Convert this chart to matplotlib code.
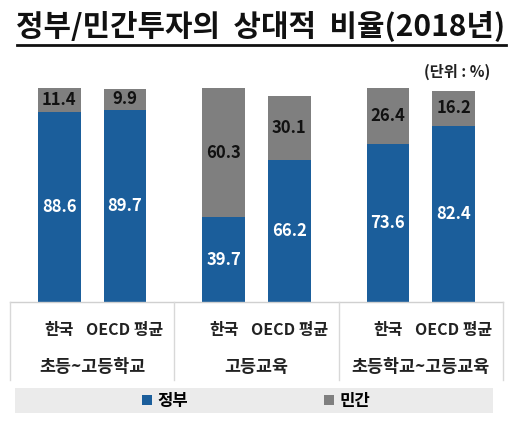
import matplotlib.pyplot as plt
from matplotlib.patches import Rectangle
import numpy as np

plt.rcParams['font.family'] = ['Noto Sans CJK KR', 'DejaVu Sans']

# data
groups = ['초등~고등학교', '고등교육', '초등학교~고등교육']
members = ['한국', 'OECD 평균']
gov = [88.6, 89.7, 39.7, 66.2, 73.6, 82.4]      # 정부
priv = [11.4, 9.9, 60.3, 30.1, 26.4, 16.2]      # 민간

blue = '#1b5e9b'
gray = '#7f7f7f'

W, H = 526, 436
fig = plt.figure(figsize=(W / 100, H / 100), dpi=100)
ax = fig.add_axes([10 / W, (H - 302) / H, 493 / W, 214 / H])

x = np.array([g + off for g in range(len(groups)) for off in (0.3, 0.7)])
b1 = ax.bar(x, gov, width=0.26, color=blue, label='정부')
b2 = ax.bar(x, priv, width=0.26, bottom=gov, color=gray, label='민간')
ax.bar_label(b1, labels=[f'{v:.1f}' for v in gov], label_type='center',
             color='white', fontsize=12, fontweight='bold')
ax.bar_label(b2, labels=[f'{v:.1f}' for v in priv], label_type='center',
             color='#111111', fontsize=12, fontweight='bold')

ax.set_xlim(0, 3)
ax.set_ylim(0, 100)
ax.axis('off')

# table-like category area under the bars
tr = ax.get_xaxis_transform()
ax.plot([0, 3], [0, 0], transform=tr, color='#d0d0d0', lw=1, clip_on=False)
for g in range(len(groups) + 1):
    ax.plot([g, g], [0, (302 - 380) / 214], transform=tr, color='#d8d8d8',
            lw=1, clip_on=False)
for i, xi in enumerate(x):
    ax.text(xi, (302 - 330) / 214, members[i % 2], transform=tr, ha='center',
            va='center', fontsize=11.5, fontweight='bold', color='#222222')
for g, name in enumerate(groups):
    ax.text(g + 0.5, (302 - 367) / 214, name, transform=tr, ha='center',
            va='center', fontsize=12.5, fontweight='bold', color='#222222')

# title
fig.text(261 / W, 1 - 27 / H, '정부/민간투자의  상대적  비율(2018년)', ha='center',
         va='center', fontsize=21.5, fontweight='bold', color='#111111')
fig.add_artist(plt.Line2D([17 / W, 506 / W], [1 - 45 / H, 1 - 45 / H],
                          color='#111111', lw=2))
fig.text(490 / W, 1 - 72 / H, '(단위 : %)', ha='right', va='center',
         fontsize=11, fontweight='bold', color='#222222')

# legend band
fig.add_artist(Rectangle((15 / W, 1 - 413 / H), 478 / W, 25 / H,
                         transform=fig.transFigure, facecolor='#ebebeb',
                         edgecolor='none'))
fig.legend(handles=[b1, b2], labels=['정부', '민간'], loc='center',
           bbox_to_anchor=(256 / W, 1 - 401 / H), ncol=2, frameon=False,
           handlelength=0.6, handleheight=0.6, handletextpad=0.3,
           columnspacing=8.2, prop={'size': 12, 'weight': 'bold'})

fig.savefig('out.png', dpi=100)
